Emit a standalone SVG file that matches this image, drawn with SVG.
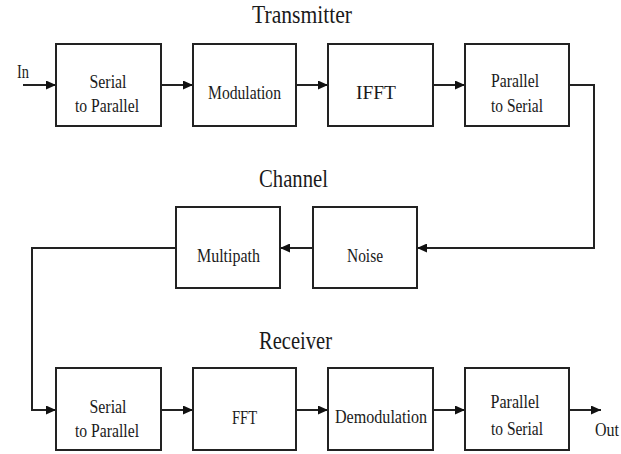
<svg xmlns="http://www.w3.org/2000/svg" width="621" height="454" viewBox="0 0 621 454">
<style>
  .box{fill:#fff;stroke:#222;stroke-width:2}
  .lbl{font-family:"Liberation Serif","Times New Roman",serif;font-size:19px;fill:#1a1a1a;text-anchor:middle}
  .ttl{font-family:"Liberation Serif","Times New Roman",serif;font-size:25px;fill:#1a1a1a;text-anchor:middle}
  .io{font-family:"Liberation Serif","Times New Roman",serif;font-size:18px;fill:#1a1a1a}
  .ln{fill:none;stroke:#222;stroke-width:2}
</style>
<defs>
  <marker id="ah" markerWidth="10" markerHeight="9" refX="10" refY="4.5" orient="auto" markerUnits="userSpaceOnUse">
    <path d="M0,0 L10,4.5 L0,9 Z" fill="#111"/>
  </marker>
</defs>
<rect width="621" height="454" fill="#fff"/>

<text class="ttl" x="302" y="23" textLength="100" lengthAdjust="spacingAndGlyphs">Transmitter</text>
<text class="ttl" x="293.5" y="187" textLength="69" lengthAdjust="spacingAndGlyphs">Channel</text>
<text class="ttl" x="295.5" y="349" textLength="73" lengthAdjust="spacingAndGlyphs">Receiver</text>

<text class="io" x="17" y="78" textLength="12" lengthAdjust="spacingAndGlyphs">In</text>
<text class="io" x="595" y="436" textLength="24" lengthAdjust="spacingAndGlyphs">Out</text>

<g id="connectors">
  <path class="ln" d="M23,85 H56" marker-end="url(#ah)"/>
  <path class="ln" d="M161,85 H193" marker-end="url(#ah)"/>
  <path class="ln" d="M296,85 H328" marker-end="url(#ah)"/>
  <path class="ln" d="M433,85 H465" marker-end="url(#ah)"/>
  <path class="ln" d="M569,85 H594 V248 H417" marker-end="url(#ah)"/>
  <path class="ln" d="M313,248 H280" marker-end="url(#ah)"/>
  <path class="ln" d="M176,248 H32 V410 H56" marker-end="url(#ah)"/>
  <path class="ln" d="M161,410 H193" marker-end="url(#ah)"/>
  <path class="ln" d="M296,410 H328" marker-end="url(#ah)"/>
  <path class="ln" d="M433,410 H465" marker-end="url(#ah)"/>
  <path class="ln" d="M569,410 H601" marker-end="url(#ah)"/>
</g>

<g id="tx-s2p">
  <rect class="box" x="56" y="44" width="105" height="82"/>
  <text class="lbl" x="108" y="88" textLength="37" lengthAdjust="spacingAndGlyphs">Serial</text>
  <text class="lbl" x="107" y="112" textLength="64" lengthAdjust="spacingAndGlyphs">to Parallel</text>
</g>
<g id="tx-mod">
  <rect class="box" x="193" y="44" width="103" height="82"/>
  <text class="lbl" x="244.5" y="99" textLength="73" lengthAdjust="spacingAndGlyphs">Modulation</text>
</g>
<g id="tx-ifft">
  <rect class="box" x="328" y="44" width="105" height="82"/>
  <text class="lbl" x="376" y="99" textLength="40" lengthAdjust="spacingAndGlyphs">IFFT</text>
</g>
<g id="tx-p2s">
  <rect class="box" x="465" y="44" width="104" height="82"/>
  <text class="lbl" x="515" y="87" textLength="48" lengthAdjust="spacingAndGlyphs">Parallel</text>
  <text class="lbl" x="517" y="112" textLength="52" lengthAdjust="spacingAndGlyphs">to Serial</text>
</g>

<g id="ch-multipath">
  <rect class="box" x="176" y="207" width="104" height="81"/>
  <text class="lbl" x="228.5" y="262" textLength="63" lengthAdjust="spacingAndGlyphs">Multipath</text>
</g>
<g id="ch-noise">
  <rect class="box" x="313" y="207" width="104" height="81"/>
  <text class="lbl" x="365" y="262" textLength="36" lengthAdjust="spacingAndGlyphs">Noise</text>
</g>

<g id="rx-s2p">
  <rect class="box" x="56" y="368" width="105" height="82"/>
  <text class="lbl" x="108" y="413" textLength="37" lengthAdjust="spacingAndGlyphs">Serial</text>
  <text class="lbl" x="107" y="437" textLength="64" lengthAdjust="spacingAndGlyphs">to Parallel</text>
</g>
<g id="rx-fft">
  <rect class="box" x="193" y="368" width="103" height="82"/>
  <text class="lbl" x="244.5" y="424" textLength="25" lengthAdjust="spacingAndGlyphs">FFT</text>
</g>
<g id="rx-demod">
  <rect class="box" x="328" y="368" width="105" height="82"/>
  <text class="lbl" x="381" y="423" textLength="92" lengthAdjust="spacingAndGlyphs">Demodulation</text>
</g>
<g id="rx-p2s">
  <rect class="box" x="465" y="368" width="104" height="82"/>
  <text class="lbl" x="515" y="408" textLength="49" lengthAdjust="spacingAndGlyphs">Parallel</text>
  <text class="lbl" x="517" y="435" textLength="52" lengthAdjust="spacingAndGlyphs">to Serial</text>
</g>
</svg>
